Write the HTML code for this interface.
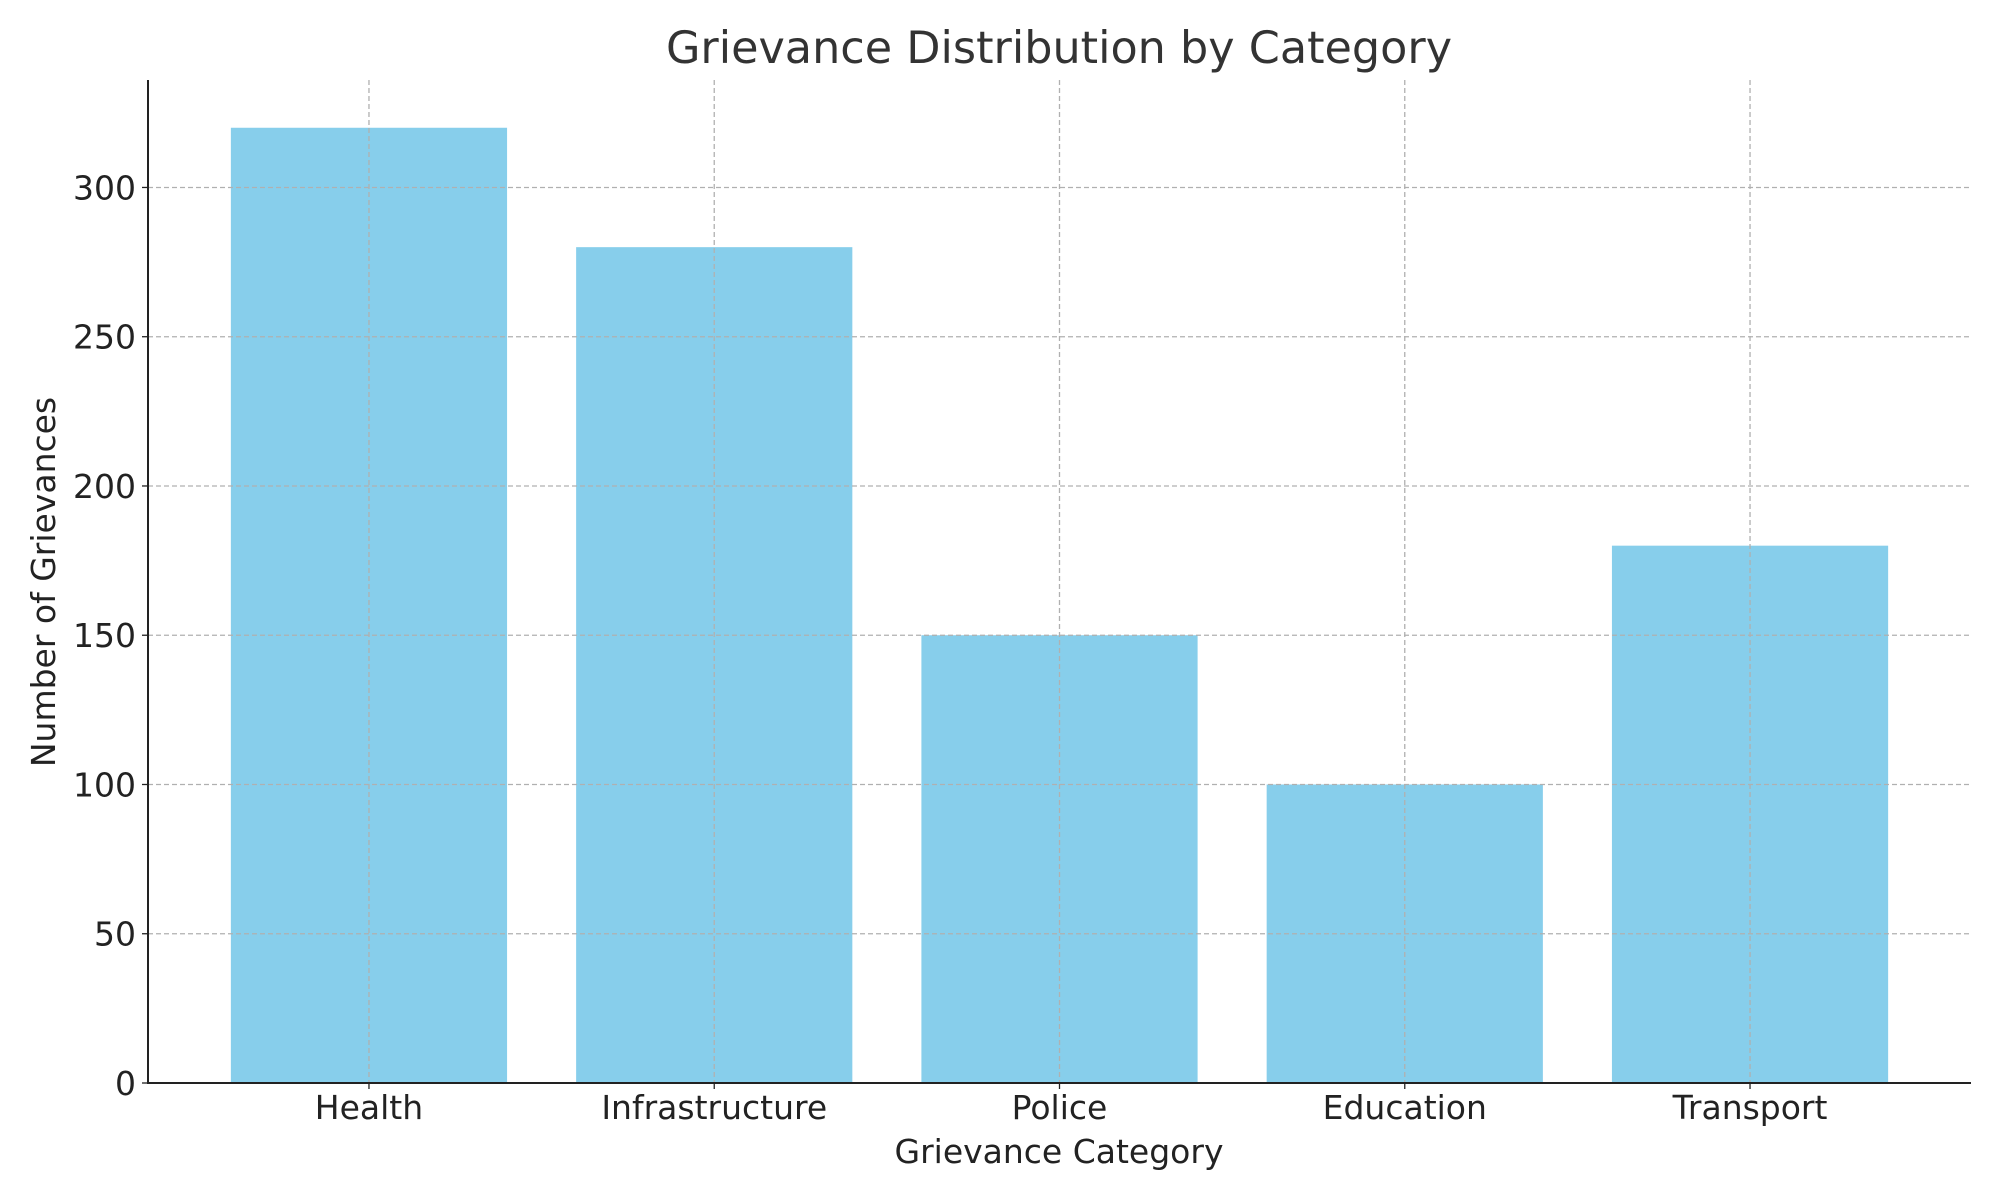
<!DOCTYPE html>
<html><head><meta charset="utf-8"><style>
html,body{margin:0;padding:0;background:#fff}
svg{display:block;font-family:"DejaVu Sans","Liberation Sans",sans-serif}
</style></head><body>
<svg id="chart" width="2000" height="1200" viewBox="0 0 2000 1200">
<text x="1059" y="63" font-size="44.5" fill="#333" text-anchor="middle">Grievance Distribution by Category</text>
<g id="grid"></g><g id="bars"></g><g id="axes"></g>
<text x="1059" y="1163" font-size="33" fill="#222" text-anchor="middle">Grievance Category</text>
<text transform="translate(55,582) rotate(-90)" font-size="33" fill="#222" text-anchor="middle">Number of Grievances</text>
</svg>
<script>
const categories = ["Health","Infrastructure","Police","Education","Transport"];
const values = [320,280,150,100,180];
const yTicks = [0,50,100,150,200,250,300];

const NS="http://www.w3.org/2000/svg";
const L=148,R=1971,T=80,B=1083,yMax=336;
const xmin=-0.64,xmax=categories.length-1+0.64;
const xS=i=>L+(i-xmin)/(xmax-xmin)*(R-L);
const yS=v=>B-v/yMax*(B-T);
const bw=0.8*(xS(1)-xS(0));
function mk(tag,attrs,parent){const e=document.createElementNS(NS,tag);for(const k in attrs)e.setAttribute(k,attrs[k]);document.getElementById(parent).appendChild(e);return e;}
categories.forEach((c,i)=>{
  const b=mk('rect',{x:xS(i)-bw/2,y:yS(values[i]),width:bw,height:B-yS(values[i]),fill:'#87ceeb'},'bars');
  
  
  const g=mk('line',{x1:xS(i),x2:xS(i),y1:T,y2:B,stroke:'#b0b0b0','stroke-width':1.3,'stroke-dasharray':'5,3'},'axes');
  
  
  const t=mk('line',{x1:xS(i),x2:xS(i),y1:B,y2:B+6,stroke:'#222','stroke-width':1.3},'axes');
  
  
  const l=mk('text',{x:xS(i),y:B+36,'font-size':33,fill:'#222','text-anchor':'middle'},'axes');
  l.textContent=c;
  
  
});
yTicks.forEach(v=>{
  const g=mk('line',{x1:L,x2:R,y1:yS(v),y2:yS(v),stroke:'#b0b0b0','stroke-width':1.3,'stroke-dasharray':'5,3'},'axes');
  
  
  const t=mk('line',{x1:L-6,x2:L,y1:yS(v),y2:yS(v),stroke:'#222','stroke-width':1.3},'axes');
  
  
  const l=mk('text',{x:L-12,y:yS(v)+12,'font-size':33,fill:'#222','text-anchor':'end'},'axes');
  l.textContent=v;
  
  
});
const ax=mk('path',{d:`M${L},${T}V${B}H${R}`,fill:'none',stroke:'#222','stroke-width':2},'axes');


</script>
</body></html>
